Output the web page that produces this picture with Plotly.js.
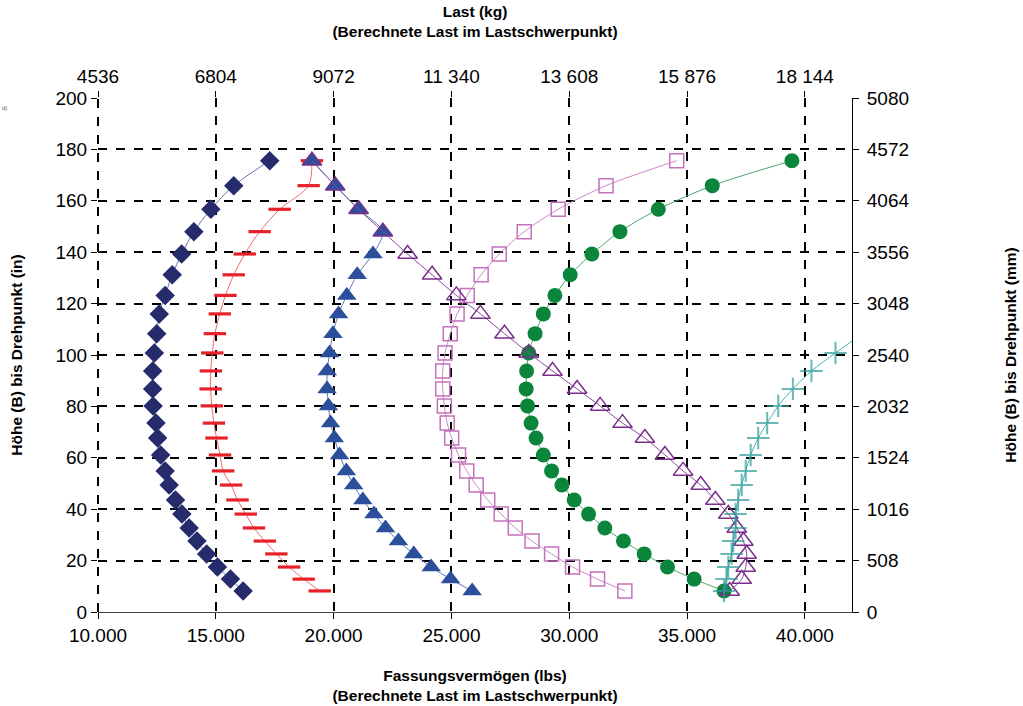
<!DOCTYPE html>
<html>
<head>
<meta charset="utf-8">
<script src="https://cdn.plot.ly/plotly-3.0.1.min.js"></script>
<style>html,body{margin:0;padding:0;background:#fff;}#chart{width:1023px;height:706px;}</style>
</head>
<body>
<div id="chart"></div>
<script>
// Heights (in) shared by the curves
const heightIn = [175.6, 165.9, 156.7, 148.0, 139.3, 131.2, 123.2, 116.0, 108.3, 100.8, 93.8, 86.8, 80.2, 73.5, 67.7, 61.1, 54.9, 49.4, 43.6, 38.1, 32.7, 27.6, 22.6, 17.5, 12.8, 8.2];

// Capacity (lbs) per curve
const seriesDiamond = [17290, 15760, 14790, 14070, 13550, 13150, 12850, 12600, 12490, 12390, 12320, 12320, 12340, 12460, 12530, 12660, 12850, 13020, 13290, 13560, 13870, 14200, 14610, 15070, 15620, 16160];
const seriesDash = [19080, 18940, 17710, 16860, 16230, 15760, 15410, 15170, 14960, 14850, 14790, 14780, 14830, 14920, 15030, 15180, 15310, 15650, 15920, 16270, 16620, 17080, 17570, 18110, 18730, 19410];
const seriesTriangle = [19080, 20070, 21060, 22090, 21670, 21000, 20560, 20210, 19970, 19830, 19730, 19720, 19780, 19870, 20030, 20250, 20540, 20850, 21240, 21710, 22200, 22750, 23400, 24140, 24960, 25880];
const seriesSquare = [34560, 31560, 29530, 28090, 27030, 26260, 25670, 25240, 24950, 24730, 24630, 24630, 24700, 24820, 25010, 25300, 25650, 26050, 26540, 27110, 27710, 28420, 29250, 30140, 31200, 32360];
const seriesCircle = [39450, 36070, 33780, 32150, 30960, 30040, 29390, 28900, 28550, 28280, 28190, 28170, 28230, 28380, 28590, 28900, 29250, 29690, 30210, 30820, 31510, 32300, 33180, 34170, 35300, 36570];
const seriesOpenTriangle = [19080, 20070, 21060, 22090, 23140, 24180, 25210, 26230, 27250, 28280, 29290, 30330, 31310, 32260, 33210, 34060, 34830, 35580, 36200, 36750, 37110, 37390, 37530, 37490, 37320, 36810];
const heightCross = [108.3, 100.8, 93.8, 86.8, 80.2, 73.5, 67.7, 61.1, 54.9, 49.4, 43.6, 38.1, 32.7, 27.6, 22.6, 17.5, 12.8, 8.2];
const seriesCross = [42450, 41300, 40280, 39490, 38870, 38400, 38020, 37700, 37490, 37320, 37170, 37060, 37060, 36960, 36890, 36750, 36670, 36570];

// Tick labels
const lbsTicks = [10000, 15000, 20000, 25000, 30000, 35000, 40000];
const kgLabels = ['4536', '6804', '9072', '11 340', '13 608', '15 876', '18 144'];
const inTicks = [0, 20, 40, 60, 80, 100, 120, 140, 160, 180, 200];
const mmLabels = ['0', '508', '1016', '1524', '2032', '2540', '3048', '3556', '4064', '4572', '5080'];

const FONT = 'Liberation Sans, Arial, sans-serif';
const X_MAX = 42000;

function tr(x, y, lineColor, marker, xa, ya) {
  return {
    type: 'scatter', mode: 'lines+markers', x: x, y: y,
    xaxis: xa || 'x', yaxis: ya || 'y',
    line: {color: lineColor, width: 1, shape: 'spline', smoothing: 0.8},
    marker: marker, showlegend: false, cliponaxis: true, hoverinfo: 'x+y'
  };
}

// markers of points beyond the visible range are hidden, only the line leaves the frame
const crossSizes = seriesCross.map(v => (v > X_MAX ? 0 : 16));

const data = [
  tr(seriesDiamond, heightIn, '#6b6fa6', {symbol: 'diamond', size: 15, color: '#262b6b', line: {width: 0}}),
  tr(seriesDash, heightIn, '#f06a6a', {symbol: 'line-ew', size: 16, color: '#e62129', line: {width: 3.2, color: '#e62129'}}),
  tr(seriesTriangle, heightIn, '#5a7bc0', {symbol: 'triangle-up', size: 17, color: '#2c4f9c', line: {width: 0}}),
  tr(seriesSquare, heightIn, '#cc88c4', {symbol: 'square-open', size: 14, color: '#c372bb', line: {width: 1.5}}),
  tr(seriesCircle, heightIn, '#4aa66a', {symbol: 'circle', size: 15, color: '#0b853c', line: {width: 0}}, 'x2', 'y'),
  tr(seriesOpenTriangle, heightIn, '#8a4a9c', {symbol: 'triangle-up-open', size: 17, color: '#7a2f8c', line: {width: 1.5}}, 'x2', 'y'),
  tr(seriesCross, heightCross, '#4bb0b0', {symbol: 'cross-thin', size: crossSizes, color: '#2a9b9b', line: {width: 2, color: '#2a9b9b'}}, 'x2', 'y2')
];

const tickFont = {family: FONT, size: 19, color: '#000'};
const titleFont = {family: FONT, size: 15.5, color: '#000'};

const layout = {
  width: 1023, height: 706,
  margin: {l: 98, r: 171, t: 98, b: 94, pad: 0},
  paper_bgcolor: '#fff', plot_bgcolor: '#fff',
  separators: ',.',
  showlegend: false,
  font: {family: FONT, color: '#000'},
  xaxis: {
    range: [10000, X_MAX], tickvals: lbsTicks, tickformat: ',d',
    showgrid: true, gridcolor: '#000', gridwidth: 2, griddash: 'dash',
    showline: true, linecolor: '#444', linewidth: 1, zeroline: false,
    ticks: 'outside', ticklen: 6, tickwidth: 1, tickcolor: '#000',
    tickfont: tickFont, side: 'bottom',
    title: {text: '<b>Fassungsvermögen (lbs)<br>(Berechnete Last im Lastschwerpunkt)</b>', font: titleFont, standoff: 25}
  },
  xaxis2: {
    overlaying: 'x', side: 'top', anchor: 'y',
    range: [10000, X_MAX], tickvals: lbsTicks, ticktext: kgLabels,
    showgrid: false, showline: false, zeroline: false,
    ticks: 'outside', ticklen: 6, tickwidth: 1, tickcolor: '#000',
    tickfont: tickFont,
    title: {text: '<b>Last (kg)<br>(Berechnete Last im Lastschwerpunkt)</b>', font: titleFont, standoff: 24}
  },
  yaxis: {
    range: [0, 200], tickvals: inTicks,
    showgrid: true, gridcolor: '#000', gridwidth: 2, griddash: 'dash',
    showline: false, zeroline: false,
    ticks: 'outside', ticklen: 6, tickwidth: 1, tickcolor: '#000',
    tickfont: tickFont,
    title: {text: '<b>Höhe (B) bis Drehpunkt (in)</b>', font: titleFont, standoff: 29}
  },
  yaxis2: {
    overlaying: 'y', side: 'right', anchor: 'x',
    range: [0, 200], tickvals: inTicks, ticktext: mmLabels,
    showgrid: false, zeroline: false,
    showline: true, linecolor: '#000', linewidth: 1,
    ticks: 'outside', ticklen: 6, tickwidth: 1, tickcolor: '#000',
    ticklabelstandoff: 4,
    tickfont: tickFont,
    title: {text: '<b>Höhe (B) bis Drehpunkt (mm)</b>', font: titleFont, standoff: 96}
  },
  shapes: [
    {type: 'line', xref: 'paper', yref: 'paper', x0: 0, x1: 0, y0: 0, y1: 1,
     line: {color: '#000', width: 2, dash: 'dash'}, layer: 'below'}
  ],
  annotations: [
    {xref: 'paper', yref: 'paper', x: -0.13, y: 0.99, xanchor: 'left', text: 'd)', showarrow: false,
     font: {family: FONT, size: 6, color: '#555'}}
  ]
};

Plotly.newPlot('chart', data, layout, {displayModeBar: false, staticPlot: true});
</script>
</body>
</html>
